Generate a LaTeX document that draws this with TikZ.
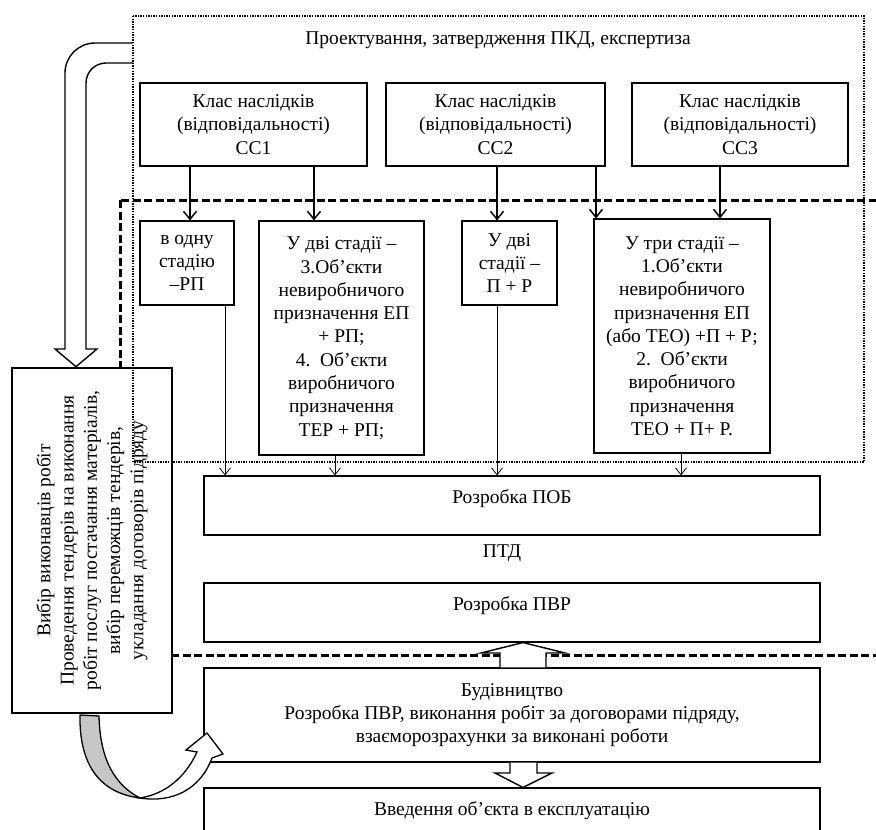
\documentclass[tikz,border=0pt]{standalone}
\usepackage{fontspec}
\setmainfont{Liberation Serif}
\usetikzlibrary{arrows.meta}
\newcommand{\boxfont}{\fontsize{19.5}{23.3}\selectfont}

\begin{document}
\begin{tikzpicture}[x=1pt,y=-1pt,
	box/.style={draw,line width=1.1pt,align=center,font=\boxfont,inner sep=0pt},
	hightext/.style={text depth=17pt},
	bigarrow/.style={line width=1.5pt,-{Straight Barb[length=8pt,width=13pt]}},
	thinarrow/.style={line width=0.8pt,-{Straight Barb[length=7pt,width=11pt]}},
	hollow/.style={draw,fill=white,line width=1.4pt,line join=miter},
	dashedframe/.style={line width=3pt,dash pattern=on 8pt off 3.5pt},
	dottedframe/.style={line width=2.6pt,dash pattern=on 1.4pt off 1.2pt}]
\useasboundingbox (0,0) rectangle (876,830);

\draw[dashedframe] (120,200) rectangle (900,655);

% classes
\node[font=\boxfont] (title) at (498,40) {Проектування, затвердження ПКД, експертиза};
\node[box,minimum width=227pt,minimum height=83pt] (cc1) at (253.5,124.5) {Клас наслідків\\(відповідальності)\\СС1};
\node[box,minimum width=219pt,minimum height=83pt] (cc2) at (495.5,124.5) {Клас наслідків\\(відповідальності)\\СС2};
\node[box,minimum width=216pt,minimum height=83pt] (cc3) at (740,124.5) {Клас наслідків\\(відповідальності)\\СС3};

% stages
\node[box,minimum width=94pt,minimum height=84pt] (st1) at (187,263) {в одну\\стадію\\–РП};
\node[box,minimum width=165pt,minimum height=234pt] (st2) at (341.5,338) {У дві стадії –\\3.Об’єкти\\невиробничого\\призначення ЕП\\+ РП;\\4.\ \ Об’єкти\\виробничого\\призначення\\ТЕР + РП;};
\node[box,minimum width=95pt,minimum height=84pt] (st3) at (509.5,263) {У дві\\стадії –\\П + Р};
\node[box,minimum width=176pt,minimum height=234pt] (st4) at (682,336) {У три стадії –\\1.Об’єкти\\невиробничого\\призначення ЕП\\(або ТЕО) +П + Р;\\2.\ \ Об’єкти\\виробничого\\призначення\\ТЕО + П+ Р.};

\node[box,hightext,minimum width=616pt,minimum height=59pt] (pob) at (512,505.5) {Розробка ПОБ};
\node[font=\boxfont] (ptd) at (502,553) {ПТД};
\node[box,hightext,minimum width=616pt,minimum height=59pt] (pvr) at (512,612.5) {Розробка ПВР};
\node[box,minimum width=616pt,minimum height=94pt] (bud) at (512,715) {Будівництво\\Розробка ПВР, виконання робіт за договорами підряду,\\взаєморозрахунки за виконані роботи};
\node[box,minimum width=616pt,minimum height=46pt] (vved) at (512,811) {Введення об’єкта в експлуатацію};

\node[box,line width=2.6pt,fill=white,rotate=90,minimum width=345pt,minimum height=160pt] (vybir) at (92,540.5) {Вибір виконавців робіт\\Проведення тендерів на виконання\\робіт послуг постачання матеріалів,\\вибір переможців тендерів,\\укладання договорів підряду};

\draw[dottedframe] (133,16) rectangle (864,462);

\foreach \k/\from/\to in {190/cc1/st1, 314/cc1/st2, 497/cc2/st3, 596/cc2/st4, 720/cc3/st4}
	\draw[bigarrow] (\k,0 |- \from.south) -- (\k,0 |- \to.north);
\foreach \k/\from in {225/st1, 335/st2, 497/st3, 681/st4}
	\draw[thinarrow] (\k,0 |- \from.south) -- (\k,0 |- pob.north);

% hollow arrows
\draw[hollow,fill=none] (133,43) -- (95,43) arc[start angle=90,end angle=180,radius=30pt] -- (65,349) -- (55,349) -- (76,0 |- vybir.east) -- (97,349) -- (86,349) -- (86,83) arc[start angle=180,end angle=90,radius=20pt] -- (133,63);
\draw[hollow] (500,0 |- bud.north) -- (500,653) -- (481,653) -- (523,0 |- pvr.south) -- (565,653) -- (546,653) -- (546,0 |- bud.north);
\draw[hollow] (510,0 |- bud.south) -- (510,773) -- (495,773) -- (523,0 |- vved.north) -- (552,773) -- (537,773) -- (537,0 |- bud.south);

\draw[line width=1.3pt,fill=black!22] (80,715) .. controls (79,765) and (100,793) .. (140,798) .. controls (115,785) and (100,760) .. (99,716) -- cycle;
\draw[line width=1.3pt,fill=white] (140,798) .. controls (172,803) and (200,790) .. (212,758) -- (223,754) -- (207,733) -- (186,750) -- (197,752) .. controls (185,778) and (165,794) .. (140,798) -- cycle;
\end{tikzpicture}
\end{document}
